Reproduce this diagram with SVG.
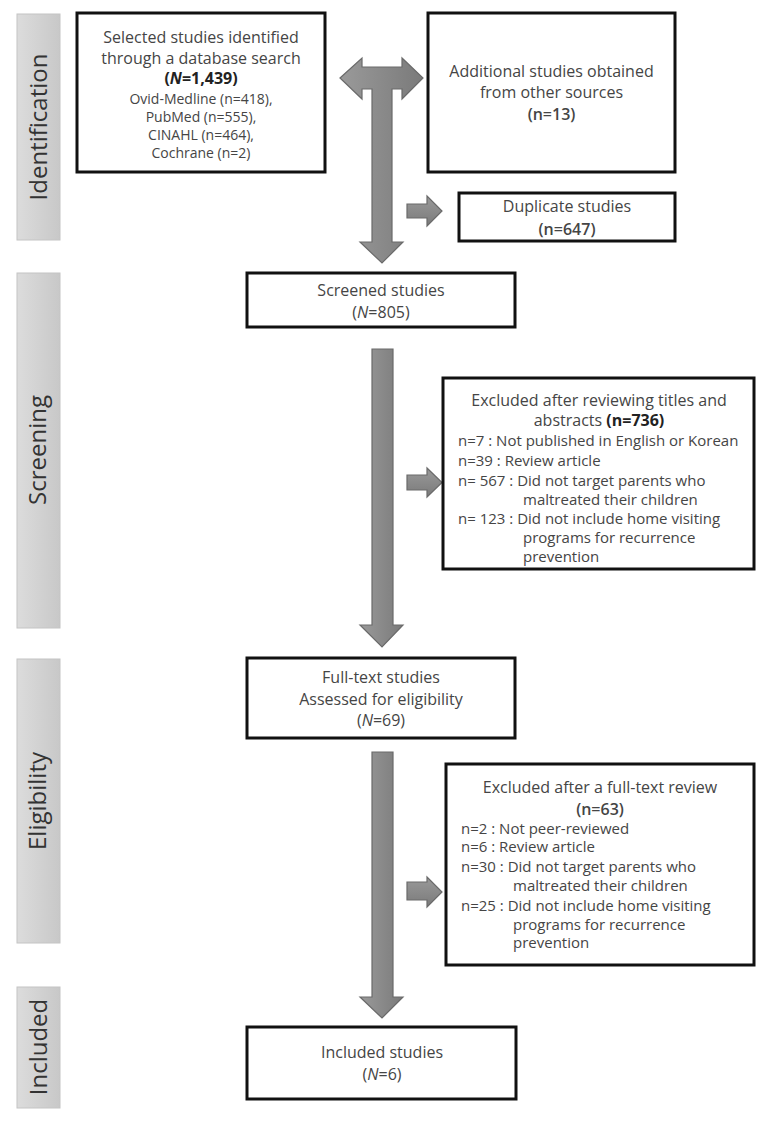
<svg xmlns="http://www.w3.org/2000/svg" width="772" height="1124" viewBox="0 0 772 1124">
<defs>
<linearGradient id="arrowGrad" x1="0" y1="0" x2="1" y2="0">
<stop offset="0" stop-color="#9a9a9a"/>
<stop offset="1" stop-color="#7a7a7a"/>
</linearGradient>
<linearGradient id="arrowGradH" x1="0" y1="0" x2="0" y2="1">
<stop offset="0" stop-color="#9a9a9a"/>
<stop offset="1" stop-color="#7a7a7a"/>
</linearGradient>
<linearGradient id="barGrad" x1="0" y1="0" x2="1" y2="0">
<stop offset="0" stop-color="#dcdcdc"/>
<stop offset="1" stop-color="#c8c8c8"/>
</linearGradient>
</defs>
<style>
text { font-family: "Open Sans", "Noto Sans", "Liberation Sans", sans-serif; fill: #454545; }
.t { font-size: 16px; text-anchor: middle; }
.s { font-size: 14px; text-anchor: middle; }
.l { font-size: 15px; }
.b { font-weight: 700; fill: #222; }
.stage { font-size: 24px; text-anchor: middle; fill: #333; }
.box { fill: #fff; stroke: #111; stroke-width: 3; }
.bar { fill: url(#barGrad); stroke: #c4c4c4; stroke-width: 1; }
.arr { fill: url(#arrowGrad); stroke: #6a6a6a; stroke-width: 1.2; stroke-linejoin: miter; }
.arrh { fill: url(#arrowGradH); stroke: #6a6a6a; stroke-width: 1.2; }
</style>
<rect width="772" height="1124" fill="#fff"/>

<g id="stages">
<g id="stage-identification">
<rect class="bar" x="17" y="14" width="43" height="226"/>
<text class="stage" transform="translate(47,127) rotate(-90)">Identification</text>
</g>
<g id="stage-screening">
<rect class="bar" x="17" y="273" width="43" height="355"/>
<text class="stage" transform="translate(46,450) rotate(-90)">Screening</text>
</g>
<g id="stage-eligibility">
<rect class="bar" x="17" y="659" width="43" height="284"/>
<text class="stage" transform="translate(46,801) rotate(-90)">Eligibility</text>
</g>
<g id="stage-included">
<rect class="bar" x="17" y="987" width="43" height="121"/>
<text class="stage" transform="translate(47,1047) rotate(-90)">Included</text>
</g>
</g>

<g id="connectors">
<path class="arr" d="M340,78 L362,58 L362,67 L402,67 L402,58 L423,78 L402,99 L402,89 L392,89 L392,242 L403,242 L382,263 L360,242 L372,242 L372,89 L362,89 L362,99 Z"/>
<path class="arrh" d="M407,204 L427,204 L427,196 L442,211 L427,226 L427,218 L407,218 Z"/>
<path class="arr" d="M372,349 L393,349 L393,625 L403,625 L382,647 L360,625 L372,625 Z"/>
<path class="arrh" d="M407,475 L427,475 L427,468 L442,482.5 L427,497 L427,490 L407,490 Z"/>
<path class="arr" d="M372,752 L393,752 L393,997 L403,997 L382,1018 L360,997 L372,997 Z"/>
<path class="arrh" d="M407,882 L427,882 L427,877 L442,892 L427,907 L427,900 L407,900 Z"/>
</g>

<g id="node-database">
<rect class="box" x="77" y="13" width="248" height="159"/>
<text class="t" x="201" y="43">Selected studies identified</text>
<text class="t" x="201" y="64">through a database search</text>
<text class="t b" x="201" y="84">(<tspan font-style="italic">N</tspan>=1,439)</text>
<text class="s" x="201" y="104">Ovid-Medline (n=418),</text>
<text class="s" x="201" y="122">PubMed (n=555),</text>
<text class="s" x="201" y="140">CINAHL (n=464),</text>
<text class="s" x="201" y="158">Cochrane (n=2)</text>
</g>

<g id="node-additional">
<rect class="box" x="428" y="13" width="247" height="159"/>
<text class="t" x="551.5" y="77">Additional studies obtained</text>
<text class="t" x="551.5" y="98">from other sources</text>
<text class="t" x="551.5" y="120" font-weight="600">(n=13)</text>
</g>

<g id="node-duplicate">
<rect class="box" x="459" y="193" width="216" height="48"/>
<text class="t" x="567" y="212">Duplicate studies</text>
<text class="t" x="567" y="235" font-weight="600">(n=647)</text>
</g>

<g id="node-screened">
<rect class="box" x="247" y="273" width="268" height="54"/>
<text class="t" x="381" y="296">Screened studies</text>
<text class="t" x="381" y="318">(<tspan font-style="italic">N</tspan>=805)</text>
</g>

<g id="node-excluded-screening">
<rect class="box" x="443" y="378" width="311" height="191"/>
<text class="t" x="599" y="406">Excluded after reviewing titles and</text>
<text class="t" x="599" y="426">abstracts <tspan class="b">(n=736)</tspan></text>
<text class="l" x="458" y="446">n=7 : Not published in English or Korean</text>
<text class="l" x="458" y="466">n=39 : Review article</text>
<text class="l" x="458" y="486">n= 567 : Did not target parents who</text>
<text class="l" x="523" y="505">maltreated their children</text>
<text class="l" x="458" y="524">n= 123 : Did not include home visiting</text>
<text class="l" x="523" y="543">programs for recurrence</text>
<text class="l" x="523" y="562">prevention</text>
</g>

<g id="node-fulltext">
<rect class="box" x="247" y="658" width="268" height="80"/>
<text class="t" x="381" y="683">Full-text studies</text>
<text class="t" x="381" y="705">Assessed for eligibility</text>
<text class="t" x="381" y="726">(<tspan font-style="italic">N</tspan>=69)</text>
</g>

<g id="node-excluded-eligibility">
<rect class="box" x="446" y="764" width="308" height="201"/>
<text class="t" x="600" y="793">Excluded after a full-text review</text>
<text class="t" x="600" y="815" font-weight="600">(n=63)</text>
<text class="l" x="461" y="834">n=2 : Not peer-reviewed</text>
<text class="l" x="461" y="852">n=6 : Review article</text>
<text class="l" x="461" y="872">n=30 : Did not target parents who</text>
<text class="l" x="513" y="891">maltreated their children</text>
<text class="l" x="461" y="911">n=25 : Did not include home visiting</text>
<text class="l" x="513" y="930">programs for recurrence</text>
<text class="l" x="513" y="948">prevention</text>
</g>

<g id="node-included">
<rect class="box" x="247" y="1027" width="269" height="72"/>
<text class="t" x="382" y="1058">Included studies</text>
<text class="t" x="382" y="1080">(<tspan font-style="italic">N</tspan>=6)</text>
</g>
</svg>
